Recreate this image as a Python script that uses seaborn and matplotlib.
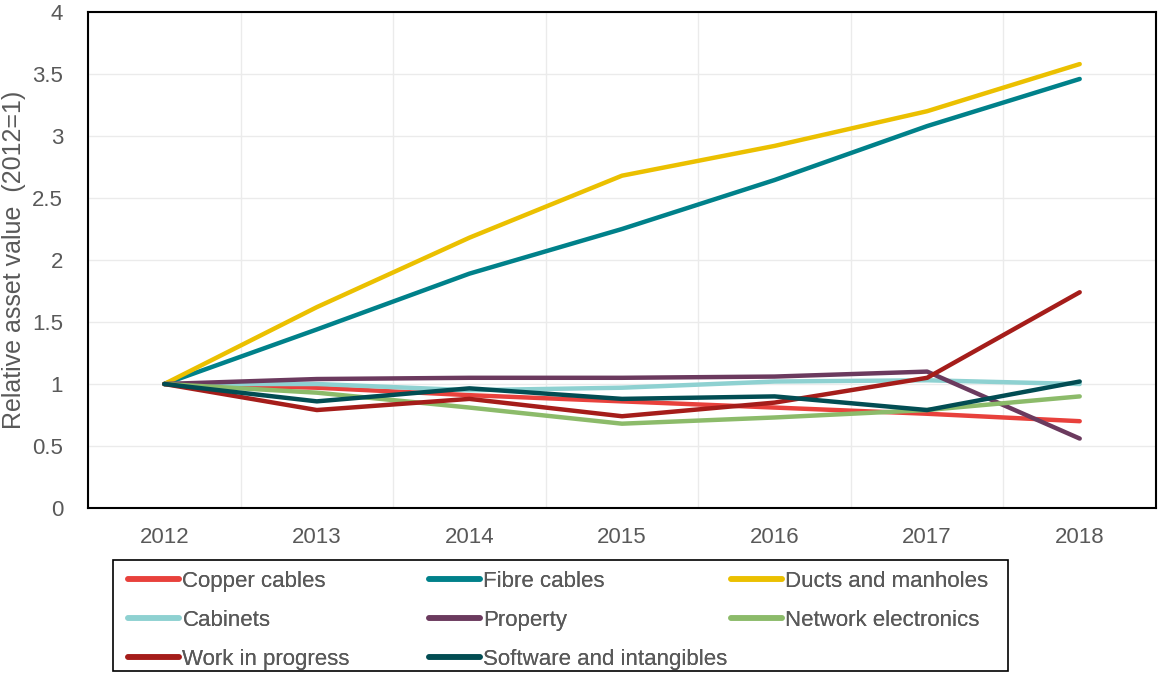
import matplotlib
matplotlib.use("Agg")
import matplotlib.pyplot as plt
import seaborn as sns
import pandas as pd
import numpy as np
from matplotlib.lines import Line2D
from matplotlib.patches import Rectangle

years = [2012, 2013, 2014, 2015, 2016, 2017, 2018]
copper_cables = [1.0, 0.97, 0.91, 0.86, 0.81, 0.76, 0.70]
fibre_cables = [1.0, 1.44, 1.89, 2.25, 2.645, 3.08, 3.46]
ducts_manholes = [1.0, 1.62, 2.18, 2.68, 2.92, 3.20, 3.58]
cabinets = [1.0, 1.0, 0.95, 0.97, 1.02, 1.03, 1.0]
property_ = [1.0, 1.04, 1.05, 1.05, 1.06, 1.10, 0.56]
network_electronics = [1.0, 0.93, 0.81, 0.68, 0.73, 0.79, 0.90]
work_in_progress = [1.0, 0.79, 0.88, 0.74, 0.85, 1.05, 1.74]
software_intangibles = [1.0, 0.86, 0.965, 0.88, 0.90, 0.79, 1.02]

series_names = ["Copper cables", "Fibre cables", "Ducts and manholes", "Cabinets",
                "Property", "Network electronics", "Work in progress",
                "Software and intangibles"]
series_values = [copper_cables, fibre_cables, ducts_manholes, cabinets, property_,
                 network_electronics, work_in_progress, software_intangibles]
colors = ["#E8413C", "#00818A", "#EBC000", "#8ED1D1", "#6B3A5E", "#8CBB6A",
          "#A51D1A", "#024D53"]
ytick_vals = [0, 0.5, 1, 1.5, 2, 2.5, 3, 3.5, 4]
ytick_labels = ["0", "0.5", "1", "1.5", "2", "2.5", "3", "3.5", "4"]

rows = []
for name, vals in zip(series_names, series_values):
    for y, v in zip(years, vals):
        rows.append({"Year": y, "Value": v, "Series": name})
df = pd.DataFrame(rows)

sns.set_theme(style="white")
plt.rcParams["font.family"] = ["Liberation Sans", "DejaVu Sans"]

W, H = 1158, 673
fig = plt.figure(figsize=(W / 100, H / 100), dpi=100)
ax = fig.add_axes([88 / W, 1 - 508 / H, (1156 - 88) / W, (508 - 12) / H])

sns.lineplot(data=df, x="Year", y="Value", hue="Series", hue_order=series_names,
             palette=colors, linewidth=3.2, ax=ax, legend=False,
             solid_capstyle="round")

ax.set_xlim(2011.5, 2018.5)
ax.set_ylim(0, 4)
ax.set_xticks(years)
ax.set_xticklabels([str(y) for y in years])
ax.set_xticks(np.arange(2011.5, 2018.6, 1), minor=True)
ax.set_yticks(ytick_vals)
ax.set_yticklabels(ytick_labels)
ax.grid(False)
ax.grid(axis="x", which="minor", color="#EBEBEB", linewidth=1)
ax.grid(axis="y", which="major", color="#EBEBEB", linewidth=1)
ax.set_axisbelow(True)
ax.tick_params(axis="both", which="both", length=0, labelsize=16,
               labelcolor="#595959")
ax.tick_params(axis="x", pad=14)
ax.tick_params(axis="y", pad=18)
for s in ax.spines.values():
    s.set_visible(True)
    s.set_color("black")
    s.set_linewidth(1.5)
ax.set_xlabel("")
ax.set_ylabel("Relative asset value  (2012=1)", fontsize=18, color="#595959",
              labelpad=4)

# Legend: three columns of equal width inside a single frame
col_x = [128, 429, 731]
col_items = [[0, 3, 6], [1, 4, 7], [2, 5]]
for cx, items in zip(col_x, col_items):
    handles = [Line2D([0], [0], color=colors[i], linewidth=4, solid_capstyle="round")
               for i in items]
    labels = [series_names[i] for i in items]
    leg = fig.legend(handles, labels, loc="upper left",
                     bbox_to_anchor=(cx / W, 1 - 571 / H),
                     frameon=False, fontsize=16, handlelength=2.3,
                     handletextpad=0.15, labelspacing=0.8,
                     borderpad=0, borderaxespad=0)
    for t in leg.get_texts():
        t.set_color("#595959")
    fig.add_artist(leg)

fig.add_artist(Rectangle((113 / W, 1 - 671 / H), (1008 - 113) / W, (671 - 560) / H,
                         transform=fig.transFigure, fill=False,
                         edgecolor="black", linewidth=1.2))

fig.savefig("out.png", dpi=100)
